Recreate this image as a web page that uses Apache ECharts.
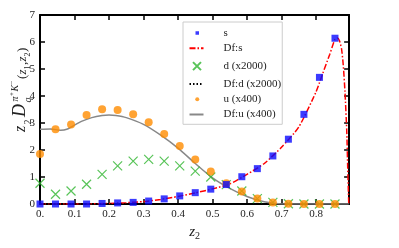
<!DOCTYPE html>
<html><head><meta charset="utf-8">
<script src="https://cdn.jsdelivr.net/npm/echarts@6/dist/echarts.min.js"></script>
<style>html,body{margin:0;padding:0;background:#fff}#c{width:399px;height:248px}</style>
</head><body><div id="c"></div>
<script>
// ---- data ----
const zBins = [0, 0.045, 0.09, 0.135, 0.18, 0.225, 0.27, 0.315, 0.36, 0.405, 0.45, 0.495, 0.54, 0.585, 0.63, 0.675, 0.72, 0.765, 0.81, 0.855];
const sVals = [0, 0, 0, 0, 0.02, 0.04, 0.06, 0.11, 0.19, 0.3, 0.42, 0.55, 0.72, 1.01, 1.31, 1.78, 2.4, 3.32, 4.69, 6.14];
const dVals = [0.77, 0.36, 0.48, 0.73, 1.1, 1.41, 1.59, 1.65, 1.59, 1.41, 1.22, 1.0, 0.72, 0.48, 0.2, 0.06, 0.01, 0, 0, 0];
const uVals = [1.85, 2.77, 2.94, 3.3, 3.51, 3.48, 3.32, 3.03, 2.59, 2.15, 1.65, 1.2, 0.77, 0.46, 0.2, 0.06, 0.01, 0, 0, 0];
const dfsX = [0, 0.1, 0.15, 0.2, 0.25, 0.3, 0.35, 0.4, 0.45, 0.5, 0.55, 0.6, 0.65, 0.7, 0.75, 0.8, 0.82, 0.84, 0.855, 0.862, 0.868, 0.874, 0.879, 0.884, 0.889, 0.892, 0.894, 0.895];
const dfsY = [0, 0, 0.005, 0.02, 0.05, 0.09, 0.17, 0.28, 0.41, 0.56, 0.74, 1.1, 1.5, 2.1, 2.85, 4.15, 4.85, 5.55, 6.1, 6.15, 6.05, 5.75, 5.15, 4.15, 2.75, 1.3, 0.4, 0];
const dfdX = [0, 0.895];
const dfdY = [0, 0];
const dfuX = [0, 0.03, 0.06, 0.08, 0.1, 0.12, 0.15, 0.18, 0.2, 0.22, 0.25, 0.3, 0.35, 0.4, 0.45, 0.5, 0.55, 0.6, 0.65, 0.7, 0.895];
const dfuY = [2.77, 2.78, 2.73, 2.78, 2.92, 3.06, 3.2, 3.28, 3.3, 3.28, 3.2, 2.95, 2.55, 2.07, 1.5, 0.97, 0.58, 0.28, 0.08, 0, 0];
const seriesNames = ['s', 'Df:s', 'd (x2000)', 'Df:d (x2000)', 'u (x400)', 'Df:u (x400)'];
const xTicks = ['0.', '0.1', '0.2', '0.3', '0.4', '0.5', '0.6', '0.7', '0.8'];
const yTicks = ['0', '1', '2', '3', '4', '5', '6', '7'];

const pair = (xs, ys) => xs.map((x, i) => [x, ys[i]]);
const FONT = 'Liberation Serif';
const XMAX = 0.896;
const TXT = '#222';

const axisCommon = {
  axisLine: { show: true, onZero: false, lineStyle: { color: '#000', width: 2 } },
  axisTick: { show: true, inside: true, length: 5, lineStyle: { color: '#000', width: 1.5 } },
  splitLine: { show: false }
};

// rotated y-axis title pieces (text, local x offset, baseline shift, font size, italic)
const titleParts = [
  ['z', 0, 0, 16, true], ['2', 7.5, 4, 10, false], ['D', 15, 0, 18, true],
  ['q', 29.5, 4, 10, true], ['π', 30.5, -9, 10, true], ['+', 36, -13, 7, false],
  ['K', 40.5, -9, 10, true], ['−', 47.5, -13, 7, false],
  ['(', 53, 0, 13, false], ['z', 57.5, 0, 13, true], ['1', 62.5, 3, 8, false],
  [',', 67, 0, 13, false], ['z', 70.5, 0, 13, true], ['2', 75.5, 3, 8, false], [')', 80, 0, 13, false]
];

const chart = echarts.init(document.getElementById('c'), null, { renderer: 'canvas' });
chart.setOption({
  animation: false,
  backgroundColor: '#fff',
  grid: { left: 40, right: 399 - (40 + XMAX * 345), top: 15, bottom: 44 },
  xAxis: [
    Object.assign({
      type: 'value', min: 0, max: XMAX, interval: 0.1, position: 'bottom',
      axisLabel: {
        fontFamily: FONT, fontSize: 11, color: TXT, margin: 5,
        formatter: v => { const k = Math.round(v * 10); return (Math.abs(v * 10 - k) < 1e-6 && xTicks[k] !== undefined) ? xTicks[k] : ''; }
      },
      name: '{z|z}{s|2}', nameLocation: 'middle', nameGap: 17,
      nameTextStyle: { rich: {
        z: { fontFamily: FONT, fontStyle: 'italic', fontSize: 15, color: TXT, lineHeight: 18 },
        s: { fontFamily: FONT, fontSize: 10, color: TXT, verticalAlign: 'bottom', lineHeight: 10 }
      } }
    }, axisCommon),
    Object.assign({
      type: 'value', min: 0, max: XMAX, interval: 0.1, position: 'top',
      axisLabel: { show: false }
    }, axisCommon)
  ],
  yAxis: [
    Object.assign({
      type: 'value', min: 0, max: 7, interval: 1, position: 'left',
      axisLabel: { fontFamily: FONT, fontSize: 11, color: TXT, margin: 5, formatter: v => yTicks[Math.round(v)] }
    }, axisCommon),
    Object.assign({
      type: 'value', min: 0, max: 7, interval: 1, position: 'right',
      axisLabel: { show: false }
    }, axisCommon)
  ],
  legend: {
    orient: 'vertical', left: 183, top: 22,
    padding: [5, 1, 4, 4], itemGap: 3.5, itemWidth: 14, itemHeight: 12,
    backgroundColor: '#fff', borderColor: '#ccc', borderWidth: 1,
    textStyle: { fontFamily: FONT, fontSize: 11, color: TXT, padding: [0, 0, 0, 15] },
    data: [
      { name: seriesNames[0], icon: 'path://M0 0M14 12M6 4.25h3.5v3.5h-3.5z' },
      { name: seriesNames[1], itemStyle: { opacity: 0 } },
      { name: seriesNames[2], icon: 'path://M0 0M14 12M3.5 2L11.5 10M11.5 2L3.5 10' },
      { name: seriesNames[3], itemStyle: { opacity: 0 } },
      { name: seriesNames[4], icon: 'path://M0 0M14 12M5.75 6a2 2 0 1 0 4 0a2 2 0 1 0 -4 0z' },
      { name: seriesNames[5], itemStyle: { opacity: 0 } }
    ]
  },
  series: [
    { name: seriesNames[0], type: 'scatter', data: pair(zBins, sVals), symbol: 'rect', symbolSize: 7,
      itemStyle: { color: '#0a0aff' }, z: 5 },
    { name: seriesNames[1], type: 'line', data: pair(dfsX, dfsY), showSymbol: false, smooth: 0.2,
      lineStyle: { color: '#ff0000', width: 1.5, type: [6, 2, 1.5, 2] }, itemStyle: { color: '#ff0000' }, z: 3 },
    { name: seriesNames[2], type: 'scatter', data: pair(zBins, dVals), symbol: 'path://M0,0L10,10M10,0L0,10', symbolSize: 9,
      itemStyle: { color: 'none', borderColor: '#2fb52f', borderWidth: 1.2 }, z: 4 },
    { name: seriesNames[3], type: 'line', data: pair(dfdX, dfdY), showSymbol: false,
      lineStyle: { color: '#000', width: 1.5, type: [1.5, 2] }, itemStyle: { color: '#000' }, z: 3 },
    { name: seriesNames[4], type: 'scatter', data: pair(zBins, uVals), symbol: 'circle', symbolSize: 8,
      itemStyle: { color: '#ff8c00' }, z: 4 },
    { name: seriesNames[5], type: 'line', data: pair(dfuX, dfuY), showSymbol: false, smooth: 0.3,
      lineStyle: { color: '#888', width: 1.5 }, itemStyle: { color: '#888' }, z: 3 }
  ],
  graphic: [{
    type: 'group', x: 29, y: 132, rotation: Math.PI / 2,
    children: titleParts.map(p => ({
      type: 'text', x: p[1], y: p[2],
      style: {
        text: p[0], fill: TXT, fontFamily: FONT, fontSize: p[3], fontStyle: p[4] ? 'italic' : 'normal',
        align: 'left', verticalAlign: 'bottom'
      }
    }))
  }]
});
</script></body></html>
